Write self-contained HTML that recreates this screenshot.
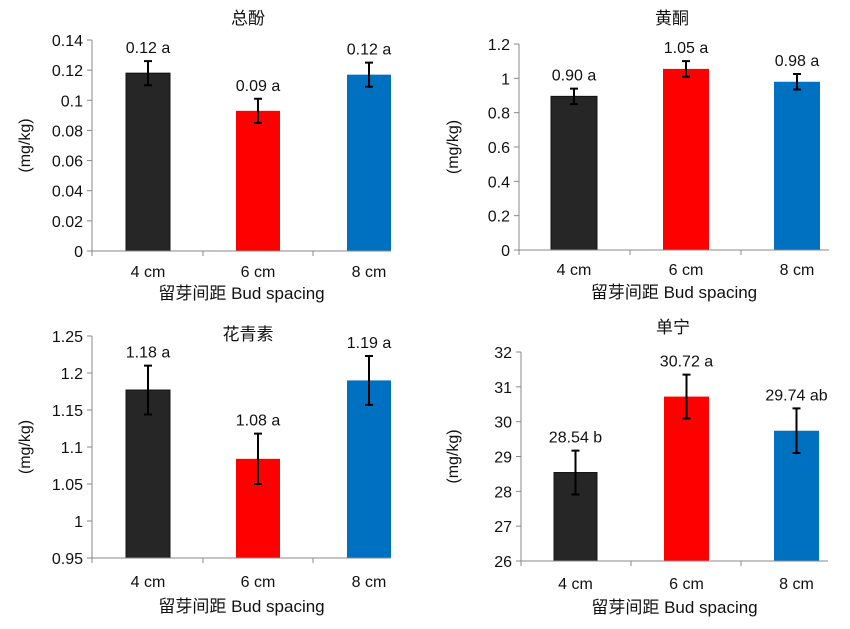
<!DOCTYPE html>
<html><head><meta charset="utf-8"><style>
body{margin:0;background:#fff}
svg text{font-family:"Liberation Sans","Noto Sans CJK SC",sans-serif;fill:#111}
</style></head><body>
<svg id="s" width="850" height="624" xmlns="http://www.w3.org/2000/svg"></svg>
<script>
const s=document.getElementById('s');let h='';
const charts=[
{t:'总酚',tx:248,ty:24,x0:92,x1:391,top:40,bot:251,mn:0,mx:0.14,st:0.02,dec:2,bars:[[126,170],[236,280],[347,391]],v:[0.118,0.093,0.117],e:[0.008,0.008,0.008],lab:['0.12 a','0.09 a','0.12 a'],ticks:[92,203,313],yl:25,xlY:277,xtY:299},
{t:'黄酮',tx:672,ty:24,x0:519,x1:829,top:44,bot:250,mn:0,mx:1.2,st:0.2,dec:1,bars:[[551,597],[663,709],[774,820]],v:[0.895,1.055,0.98],e:[0.045,0.045,0.045],lab:['0.90 a','1.05 a','0.98 a'],ticks:[519,630,741],yl:453,xlY:275,xtY:298},
{t:'花青素',tx:248,ty:340,x0:92,x1:391,top:336,bot:558,mn:0.95,mx:1.25,st:0.05,dec:2,bars:[[126,170],[236,280],[347,391]],v:[1.177,1.084,1.19],e:[0.033,0.034,0.033],lab:['1.18 a','1.08 a','1.19 a'],ticks:[92,203,313],yl:25,xlY:587,xtY:612},
{t:'单宁',tx:673,ty:333,x0:521,x1:828,top:352,bot:561,mn:26,mx:32,st:1,dec:0,bars:[[554,597],[664,709],[774,819]],v:[28.54,30.72,29.74],e:[0.63,0.63,0.64],lab:['28.54 b','30.72 a','29.74 ab'],ticks:[521,631,741],yl:453,xlY:589,xtY:613}
];
const cols=['#262626','#ff0000','#0070c0'];
const cats=['4 cm','6 cm','8 cm'];
for(const c of charts){
 const Y=v=>c.bot-(v-c.mn)/(c.mx-c.mn)*(c.bot-c.top);
 h+=`<text x="${c.tx}" y="${c.ty}" font-size="17" text-anchor="middle">${c.t}</text>`;
 const n=Math.round((c.mx-c.mn)/c.st);
 for(let i=0;i<=n;i++){const v=c.mn+i*c.st;const y=Y(v);
  let l=+v.toFixed(c.dec);let str=String(l);
  h+=`<line x1="${c.x0-5}" y1="${y}" x2="${c.x0}" y2="${y}" stroke="#888"/>`;
  h+=`<text x="${c.x0-9}" y="${y+6}" font-size="16" text-anchor="end">${str}</text>`;}
 h+=`<line x1="${c.x0}" y1="${c.top}" x2="${c.x0}" y2="${c.bot}" stroke="#888"/>`;
 c.bars.forEach((b,i)=>{const y=Y(c.v[i]);
  h+=`<rect x="${b[0]}" y="${y}" width="${b[1]-b[0]}" height="${c.bot-y}" fill="${cols[i]}" ${i==0?'stroke="#111" stroke-width="1"':''}/>`;
  const m=(b[0]+b[1])/2,yt=Y(c.v[i]+c.e[i]),yb=Y(c.v[i]-c.e[i]);
  h+=`<path d="M${m} ${yt}V${yb}M${m-4} ${yt}H${m+4}M${m-4} ${yb}H${m+4}" stroke="#000" stroke-width="2" fill="none"/>`;
  h+=`<text x="${m}" y="${yt-8}" font-size="16" text-anchor="middle">${c.lab[i]}</text>`;
  h+=`<text x="${m}" y="${c.xlY}" font-size="16" text-anchor="middle">${cats[i]}</text>`;
 });
 h+=`<line x1="${c.x0}" y1="${c.bot}" x2="${c.x1}" y2="${c.bot}" stroke="#888"/>`;
 c.ticks.forEach(t=>h+=`<line x1="${t}" y1="${c.bot}" x2="${t}" y2="${c.bot+5}" stroke="#888"/>`);
 h+=`<text x="${(c.x0+c.x1)/2}" y="${c.xtY}" font-size="17" text-anchor="middle">留芽间距  Bud spacing</text>`;
 const cy=(c.top+c.bot)/2;
 h+=`<text transform="translate(${c.yl+5},${cy}) rotate(-90)" font-size="16" text-anchor="middle">(mg/kg)</text>`;
}
s.innerHTML=h;
</script>
</body></html>
